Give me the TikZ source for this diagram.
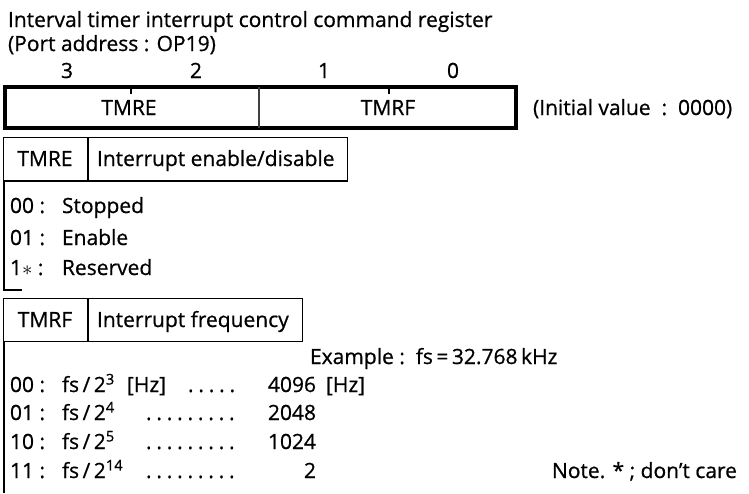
\documentclass[tikz,border=0pt]{standalone}
\usepackage{fontspec}
\setmainfont{Open Sans}[RawFeature={embolden=0.7}]
\begin{document}
\begin{tikzpicture}[x=1pt,y=-1pt,
  every node/.style={inner sep=0pt,outer sep=0pt},
  txt/.style={anchor=base west,font=\fontsize{21}{24}\selectfont},
  ctxt/.style={anchor=base,font=\fontsize{21}{24}\selectfont},
  rtxt/.style={anchor=base east,font=\fontsize{21}{24}\selectfont},
  regbox/.style={draw,line width=4pt},
  hdrbox/.style={draw,line width=1.8pt},
  sideline/.style={line width=2pt}]
\useasboundingbox (0,0) rectangle (749,493);
% title
\node[txt] (t1) at (8,27) {Interval timer interrupt control command register};
\node[txt] (t2) at (8,51) {(Port address : OP19)};
% bit numbers
\node[ctxt] (b3) at (67,78) {3};
\node[ctxt] (b2) at (196,78) {2};
\node[ctxt] (b1) at (324,78) {1};
\node[ctxt] (b0) at (453,78) {0};
% register box
\node[regbox,minimum width=511pt,minimum height=41pt] (reg) at (260,107.5) {};
\coordinate (dtop) at (259,87);
\coordinate (dbot) at (259,128);
\draw[line width=2.2pt,black!75] (dtop) -- (dbot);
\coordinate (k1a) at (131,87); \coordinate (k1b) at (131,94);
\coordinate (k2a) at (389,87); \coordinate (k2b) at (389,94);
\draw[line width=1.2pt] (k1a) -- (k1b);
\draw[line width=1.2pt] (k2a) -- (k2b);
\node[ctxt] (fe) at (129,115) {TMRE};
\node[ctxt] (ff) at (388,115) {TMRF};
\node[txt] (init) at (533,115) {(Initial value~~:~~0000)};
% TMRE section
\node[hdrbox,minimum width=344pt,minimum height=43.5pt] (h1) at (175.5,159.25) {};
\coordinate (h1d1) at (88,137.5); \coordinate (h1d2) at (88,181);
\draw[line width=1.8pt] (h1d1) -- (h1d2);
\node[ctxt] (h1a) at (45,166) {TMRE};
\node[txt] (h1b) at (97,166) {Interrupt enable/disable};
\coordinate (l1a) at (3.5,181); \coordinate (l1b) at (3.5,290); \coordinate (l1c) at (22,290);
\draw[sideline] (l1a) -- (l1b) -- (l1c);
\node[txt] (e0k) at (10,213) {00 :};
\node[txt] (e0v) at (62,213) {Stopped};
\node[txt] (e1k) at (10,245) {01 :};
\node[txt] (e1v) at (62,245) {Enable};
\node[txt] (e2k) at (10,275) {1$\ast$ :};
\node[txt] (e2v) at (62,275) {Reserved};
% TMRF section
\node[hdrbox,minimum width=299pt,minimum height=43pt] (h2) at (153,320) {};
\coordinate (h2d1) at (88,298.5); \coordinate (h2d2) at (88,341.5);
\draw[line width=1.8pt] (h2d1) -- (h2d2);
\node[ctxt] (h2a) at (45,327) {TMRF};
\node[txt] (h2b) at (97,327) {Interrupt frequency};
\coordinate (l2a) at (3.5,341.5); \coordinate (l2b) at (3.5,493);
\draw[sideline] (l2a) -- (l2b);
\node[txt] (ex) at (310,364) {Example :\ \ fs\,=\,32.768\,kHz};
\node[txt] (f0k) at (10,392) {00 :};
\node[txt] (f0v) at (62,392) {fs\,/\,2\textsuperscript{3}};
\node[txt] (f0u) at (127,392) {[Hz]};
\node[txt] (f0d) at (188,392) {.\hspace{4.8pt}.\hspace{4.8pt}.\hspace{4.8pt}.\hspace{4.8pt}.};
\node[rtxt] (f0n) at (316,392) {4096};
\node[txt] (f0h) at (326,392) {[Hz]};
\node[txt] (f1k) at (10,420) {01 :};
\node[txt] (f1v) at (62,420) {fs\,/\,2\textsuperscript{4}};
\node[txt] (f1d) at (146,420) {.\hspace{4.8pt}.\hspace{4.8pt}.\hspace{4.8pt}.\hspace{4.8pt}.\hspace{4.8pt}.\hspace{4.8pt}.\hspace{4.8pt}.\hspace{4.8pt}.};
\node[rtxt] (f1n) at (316,420) {2048};
\node[txt] (f2k) at (10,449) {10 :};
\node[txt] (f2v) at (62,449) {fs\,/\,2\textsuperscript{5}};
\node[txt] (f2d) at (146,449) {.\hspace{4.8pt}.\hspace{4.8pt}.\hspace{4.8pt}.\hspace{4.8pt}.\hspace{4.8pt}.\hspace{4.8pt}.\hspace{4.8pt}.\hspace{4.8pt}.};
\node[rtxt] (f2n) at (316,449) {1024};
\node[txt] (f3k) at (10,478) {11 :};
\node[txt] (f3v) at (62,478) {fs\,/\,2\textsuperscript{14}};
\node[txt] (f3d) at (146,478) {.\hspace{4.8pt}.\hspace{4.8pt}.\hspace{4.8pt}.\hspace{4.8pt}.\hspace{4.8pt}.\hspace{4.8pt}.\hspace{4.8pt}.\hspace{4.8pt}.};
\node[rtxt] (f3n) at (316,478) {2};
\node[txt] (note) at (552,478) {Note. * ; don’t care};
\end{tikzpicture}
\end{document}
